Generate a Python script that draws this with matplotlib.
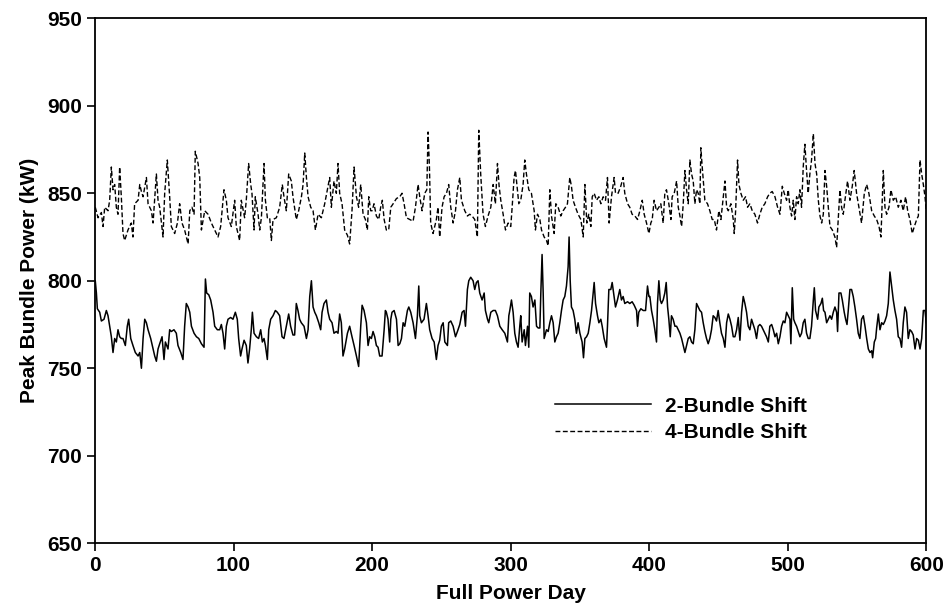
import matplotlib
matplotlib.use("Agg")
import matplotlib.pyplot as plt

# ---- 2-Bundle Shift (solid) ----
days_2b = [0.2, 1.0, 1.7, 3.4, 4.6, 6.5, 8.2, 9.4, 10.6, 11.8, 13.0, 14.2, 15.4, 16.6, 17.8, 19.0, 20.2, 21.9, 23.3, 24.3,
           25.8, 27.4, 29.1, 31.1, 32.3, 33.5, 34.7, 35.9, 37.1, 38.3, 40.2, 41.9, 43.1, 44.3, 45.5, 46.7, 48.4, 49.8, 50.8,
           52.7, 53.9, 55.1, 57.0, 58.7, 59.9, 61.9, 63.5, 64.7, 65.9, 67.2, 68.4, 69.6, 71.5, 73.2, 74.9, 76.8, 78.7, 79.7,
           80.6, 82.1, 83.5, 85.2, 86.4, 88.3, 90.0, 91.2, 92.4, 93.6, 94.8, 96.0, 97.9, 99.6, 101.3, 102.7, 103.7, 105.1,
           106.1, 107.6, 109.2, 110.4, 111.6, 112.8, 113.6, 114.8, 116.5, 118.1, 119.6, 120.8, 122.0, 123.0, 124.4, 125.4,
           126.8, 128.5, 130.2, 131.6, 133.3, 135.0, 136.4, 138.1, 139.8, 141.2, 142.9, 144.1, 145.3, 146.5, 147.7, 148.9,
           150.9, 152.6, 153.8, 155.0, 156.2, 157.4, 158.6, 159.8, 161.5, 162.9, 163.9, 165.3, 167.0, 168.2, 169.4, 171.1,
           172.5, 174.2, 175.4, 176.6, 177.8, 179.0, 180.2, 182.2, 183.8, 185.5, 187.0, 188.7, 190.3, 191.8, 192.8, 194.2,
           195.9, 197.1, 198.3, 199.5, 200.7, 201.9, 203.1, 204.3, 205.5, 207.2, 208.7, 209.6, 210.3, 211.5, 212.7, 213.5,
           214.4, 215.9, 217.6, 218.8, 220.0, 221.2, 222.4, 223.6, 225.5, 226.5, 227.9, 229.6, 231.3, 232.7, 233.7, 234.4,
           235.6, 237.5, 239.2, 240.4, 241.6, 243.3, 244.8, 246.4, 247.6, 248.8, 250.0, 251.3, 252.5, 254.4, 255.3, 256.8,
           258.5, 260.2, 261.6, 263.3, 265.0, 266.4, 267.4, 268.8, 269.8, 271.2, 272.9, 274.1, 275.3, 276.5, 277.7, 279.4,
           280.9, 281.8, 283.3, 284.2, 285.7, 287.4, 289.0, 290.5, 292.2, 293.9, 295.8, 297.7, 298.7, 299.4, 300.6, 301.8,
           303.0, 304.2, 305.4, 306.6, 307.3, 308.3, 309.8, 310.7, 312.2, 313.1, 313.8, 315.0, 316.2, 317.5, 318.7, 319.9,
           321.1, 321.8, 322.7, 323.5, 324.2, 325.9, 327.1, 328.3, 329.5, 330.7, 331.9, 333.1, 334.3, 335.5, 336.7, 337.9,
           339.1, 340.3, 341.5, 342.2, 343.0, 343.9, 345.1, 346.3, 347.5, 348.7, 350.0, 351.6, 352.6, 353.6, 354.8, 356.0,
           357.2, 358.4, 359.6, 360.3, 361.3, 362.7, 363.7, 365.1, 366.1, 367.5, 369.2, 369.9, 370.9, 372.3, 373.3, 374.7,
           375.7, 377.1, 378.8, 380.0, 381.2, 382.4, 384.4, 386.0, 387.7, 389.2, 390.9, 391.6, 392.5, 394.0, 395.7, 397.4,
           398.8, 399.8, 400.5, 401.7, 402.9, 404.1, 405.3, 406.0, 407.0, 408.0, 408.9, 410.1, 411.3, 412.3, 413.3, 414.2,
           415.2, 416.1, 417.3, 418.6, 419.8, 421.0, 422.2, 423.4, 424.6, 425.8, 427.0, 428.2, 429.4, 430.6, 431.8, 433.0,
           434.2, 435.4, 436.6, 437.8, 439.0, 440.2, 441.4, 442.6, 443.8, 445.0, 446.2, 447.4, 448.6, 449.8, 451.0, 452.2,
           453.5, 454.7, 455.9, 457.1, 458.3, 459.5, 460.7, 461.9, 463.1, 464.3, 465.5, 466.7, 467.9, 469.1, 470.3, 471.5,
           472.7, 473.9, 475.1, 476.3, 477.5, 478.7, 479.9, 481.1, 482.3, 483.5, 484.7, 486.0, 487.1, 488.4, 489.6, 490.8,
           492.0, 493.2, 494.4, 495.6, 496.8, 498.0, 499.2, 500.4, 501.6, 502.3, 503.3, 504.3, 505.2, 506.4, 507.6, 508.8,
           510.0, 511.2, 512.4, 513.6, 514.8, 516.0, 517.2, 518.5, 519.2, 520.1, 521.6, 522.5, 524.0, 525.0, 525.9, 526.9,
           528.1, 529.3, 530.5, 531.7, 532.9, 534.1, 535.3, 536.0, 537.0, 538.4, 539.4, 540.8, 541.8, 542.8, 543.7, 544.9,
           546.1, 547.3, 548.5, 549.7, 550.9, 552.1, 553.3, 554.6, 555.8, 557.0, 558.2, 559.4, 560.6, 561.3, 562.5, 563.5,
           564.2, 565.4, 566.6, 567.8, 569.0, 570.2, 571.4, 572.6, 573.8, 575.0, 576.2, 577.4, 578.6, 579.8, 581.0, 582.2,
           583.4, 584.6, 585.8, 587.0, 588.2, 589.4, 590.6, 591.9, 593.1, 594.3, 595.5, 596.7, 597.9, 599.1, 600.0]
power_2b = [800, 793, 784, 782, 777, 778, 783, 780, 774, 768, 759, 767, 765, 772, 768, 767, 767, 763, 774, 778,
            767, 763, 759, 757, 759, 750, 767, 778, 776, 772, 767, 761, 757, 754, 761, 764, 768, 755, 765,
            761, 772, 771, 772, 770, 763, 759, 755, 774, 787, 785, 782, 774, 770, 768, 767, 764, 762, 801,
            793, 792, 789, 782, 774, 772, 772, 775, 770, 761, 774, 778, 779, 778, 782, 778, 767, 757,
            761, 766, 763, 753, 761, 772, 782, 770, 768, 767, 772, 765, 767, 763, 755, 772,
            778, 780, 783, 782, 780, 768, 767, 774, 781, 774, 769, 769, 787, 783, 778, 776,
            774, 767, 772, 791, 800, 785, 782, 780, 776, 772, 782, 787, 789, 782, 778, 776,
            770, 771, 770, 781, 776, 757, 761, 770, 774, 768, 763, 757, 751, 774, 786, 783,
            776, 763, 768, 767, 771, 768, 763, 762, 757, 757, 772, 783, 782, 778, 765, 778,
            782, 783, 778, 763, 764, 767, 776, 774, 783, 785, 782, 776, 767, 780, 797, 780,
            776, 778, 787, 780, 772, 767, 765, 755, 763, 766, 774, 776, 765, 763, 776, 777,
            774, 768, 771, 775, 782, 783, 774, 795, 800, 802, 800, 795, 799, 800, 793, 789,
            793, 783, 778, 776, 782, 783, 783, 780, 774, 772, 770, 765, 780, 783, 789, 782,
            770, 765, 762, 774, 780, 765, 772, 763, 774, 762, 793, 791, 785, 789, 774, 773,
            773, 793, 815, 793, 767, 772, 771, 776, 780, 776, 765, 768, 770, 776, 783, 789,
            791, 797, 808, 825, 800, 785, 783, 778, 770, 776, 770, 765, 756, 767, 768, 770,
            776, 783, 793, 799, 787, 780, 776, 778, 774, 767, 762, 774, 795, 795, 799, 791,
            785, 789, 795, 789, 791, 787, 788, 787, 788, 786, 783, 774, 782, 784, 783, 783,
            797, 791, 791, 783, 778, 772, 765, 787, 800, 789, 787, 789, 793, 799, 785, 778,
            768, 780, 778, 774, 774, 772, 770, 767, 763, 759, 763, 767, 768, 765, 764, 772,
            787, 785, 783, 782, 776, 771, 767, 764, 767, 772, 780, 779, 777, 783, 776, 770,
            767, 762, 776, 781, 778, 774, 768, 768, 772, 779, 766, 782, 791, 787, 782, 774,
            772, 778, 775, 772, 767, 774, 775, 774, 772, 770, 768, 765, 774, 775, 772, 768,
            770, 764, 768, 774, 777, 776, 782, 780, 778, 764, 796, 778, 776, 774, 771, 768,
            770, 776, 778, 770, 767, 767, 774, 789, 796, 783, 778, 785, 787, 790, 783, 782,
            776, 778, 780, 778, 782, 785, 782, 771, 793, 793, 789, 782, 778, 775, 783, 795,
            795, 791, 785, 778, 770, 767, 778, 780, 774, 767, 761, 759, 760, 756, 765, 767,
            773, 781, 772, 776, 775, 777, 780, 787, 805, 797, 789, 783, 778, 768, 767, 762,
            776, 785, 782, 767, 772, 771, 769, 761, 767, 766, 761, 767, 783, 783, 776]

# ---- 4-Bundle Shift (dashed) ----
days_4b = [0.2, 2.2, 4.6, 5.8, 7.0, 9.4, 10.6, 11.8, 13.0, 14.2, 15.4, 16.6, 17.8, 19.0, 20.2, 21.4, 23.8, 26.2, 27.4,
           28.6, 31.1, 32.3, 33.5, 34.7, 37.1, 38.3, 40.7, 41.9, 44.3, 45.5, 46.7, 49.1, 50.3, 52.2, 53.9, 55.1, 57.5,
           59.5, 61.1, 62.8, 64.7, 67.2, 68.4, 70.0, 71.5, 72.4, 74.4, 75.6, 76.8, 79.2, 81.6, 84.0, 86.4, 88.8, 90.7,
           93.1, 94.8, 96.0, 98.4, 100.8, 102.0, 104.4, 105.6, 108.0, 109.2, 110.9, 112.4, 113.3, 114.8, 115.7, 117.7,
           118.9, 120.1, 122.0, 123.0, 124.4, 126.1, 127.3, 128.5, 130.9, 133.3, 135.2, 136.4, 138.1, 139.8, 141.7,
           142.9, 145.3, 147.0, 149.0, 150.2, 151.4, 152.6, 153.8, 155.7, 157.4, 159.1, 161.0, 163.4, 165.8, 167.7,
           169.4, 170.6, 172.5, 174.2, 175.4, 176.6, 178.3, 180.2, 182.2, 183.8, 185.5, 187.0, 188.7, 190.3, 191.8,
           193.5, 195.2, 196.6, 197.6, 199.0, 200.0, 201.4, 203.1, 204.8, 206.2, 207.4, 208.7, 210.3, 212.0, 213.5,
           215.2, 217.6, 220.0, 221.6, 223.1, 224.8, 227.2, 229.6, 231.3, 233.2, 234.4, 236.1, 238.0, 239.5, 240.4,
           241.4, 242.3, 244.0, 246.4, 247.6, 248.8, 250.5, 252.0, 253.7, 255.3, 256.8, 258.5, 260.2, 261.6, 263.3,
           264.5, 266.9, 268.8, 270.5, 272.2, 274.1, 276.0, 277.0, 278.4, 280.1, 281.8, 283.7, 285.7, 287.4, 289.0,
           290.5, 291.7, 292.9, 294.6, 296.3, 298.2, 300.1, 301.1, 302.5, 303.5, 304.9, 305.9, 307.3, 309.0, 310.2,
           311.4, 313.1, 315.0, 317.0, 317.9, 319.4, 321.1, 322.3, 324.2, 325.9, 327.1, 328.3, 329.5, 331.4, 332.6,
           334.3, 336.2, 337.9, 339.6, 341.0, 342.7, 343.9, 345.1, 346.8, 348.7, 350.7, 352.4, 353.6, 355.0, 356.4,
           357.9, 358.9, 360.3, 362.0, 363.7, 365.1, 366.8, 368.5, 369.9, 371.1, 372.8, 374.7, 375.7, 377.6, 379.5,
           381.2, 382.4, 384.4, 386.0, 387.7, 389.7, 391.6, 393.3, 395.0, 396.4, 398.1, 399.8, 401.2, 402.2, 403.6,
           405.3, 407.0, 408.4, 410.1, 411.3, 412.5, 414.2, 415.7, 416.6, 418.1, 419.8, 421.0, 422.2, 423.4, 424.6,
           425.8, 427.0, 428.2, 429.4, 430.6, 431.8, 433.0, 434.2, 435.4, 436.6, 437.3, 438.3, 439.3, 440.2, 442.1,
           443.8, 445.5, 447.0, 448.6, 450.3, 451.8, 453.5, 454.7, 455.9, 457.1, 459.0, 460.7, 461.4, 462.4, 463.8,
           464.8, 466.2, 467.9, 469.6, 471.0, 472.7, 474.4, 476.3, 478.2, 479.9, 481.6, 483.5, 485.5, 487.1, 488.8,
           490.8, 492.7, 494.4, 496.1, 497.5, 499.2, 500.4, 501.6, 502.8, 504.0, 505.2, 506.4, 507.6, 508.8, 510.0,
           511.2, 512.4, 513.6, 514.8, 516.0, 517.2, 518.5, 519.7, 520.9, 522.1, 523.3, 524.5, 525.7, 526.9, 528.1,
           529.3, 530.5, 532.2, 534.1, 535.3, 536.5, 537.7, 538.9, 540.1, 541.3, 543.2, 544.9, 546.6, 548.0, 549.7,
           551.4, 553.3, 555.3, 557.0, 558.6, 560.6, 562.5, 564.2, 565.9, 567.3, 569.0, 570.2, 571.4, 573.1, 574.5,
           576.2, 577.9, 579.8, 581.7, 583.4, 585.1, 586.6, 588.2, 589.9, 591.4, 593.1, 594.3, 595.5, 596.7, 597.9,
           599.1, 600.0]
power_4b = [842, 836, 839, 831, 842, 840, 846, 865, 852, 855, 842, 838, 865, 848, 827, 823, 829, 833, 825,
            844, 846, 855, 851, 848, 859, 844, 840, 833, 861, 846, 842, 825, 850, 869, 848, 831, 827,
            833, 844, 833, 829, 821, 840, 842, 838, 874, 867, 859, 829, 840, 838, 833, 829, 825, 831,
            852, 846, 836, 831, 846, 831, 823, 846, 836, 846, 867, 855, 850, 829, 848, 838,
            829, 836, 867, 846, 836, 836, 823, 835, 836, 842, 855, 848, 840, 861, 857,
            848, 835, 840, 848, 855, 873, 859, 848, 842, 840, 829, 838, 836, 844, 852,
            859, 842, 857, 850, 867, 850, 844, 829, 826, 821, 840, 865, 848, 842, 855,
            838, 835, 829, 848, 840, 840, 844, 837, 835, 842, 846, 835, 829, 829, 842,
            844, 847, 848, 850, 844, 836, 835, 834, 842, 855, 848, 840, 850, 852, 885,
            865, 833, 827, 835, 842, 825, 842, 848, 850, 855, 842, 833, 840, 852, 859,
            846, 840, 837, 838, 837, 835, 825, 886, 861, 838, 831, 837, 842, 855, 844,
            867, 854, 846, 838, 829, 833, 831, 842, 859, 863, 852, 844, 846, 855, 869,
            861, 852, 850, 840, 829, 838, 835, 829, 825, 823, 820, 852, 837, 827, 844,
            842, 837, 840, 842, 844, 859, 854, 846, 842, 838, 835, 825, 855, 833, 838,
            831, 848, 850, 846, 848, 844, 848, 846, 859, 833, 848, 859, 850, 850, 854,
            859, 850, 844, 842, 838, 837, 835, 840, 846, 838, 833, 827, 833, 835, 846,
            840, 842, 844, 833, 850, 852, 844, 835, 848, 850, 857, 842, 837, 831, 844,
            863, 852, 844, 869, 861, 857, 844, 852, 850, 844, 876, 865, 855, 846, 844,
            840, 835, 835, 829, 840, 835, 848, 857, 842, 840, 844, 835, 827, 840, 869,
            855, 850, 846, 848, 842, 844, 840, 838, 833, 838, 842, 844, 848, 850, 851,
            848, 842, 838, 854, 850, 846, 852, 842, 837, 846, 835, 848, 844, 852, 842,
            865, 878, 863, 850, 861, 869, 884, 867, 861, 846, 837, 833, 838, 863, 854,
            842, 831, 829, 825, 819, 835, 852, 842, 838, 846, 857, 846, 854, 863, 850,
            842, 833, 850, 855, 850, 840, 837, 835, 831, 825, 863, 842, 838, 842, 852,
            846, 848, 842, 846, 840, 848, 840, 835, 827, 831, 835, 837, 869, 861, 855,
            848, 840]

labels = ["2-Bundle Shift", "4-Bundle Shift"]
x_ticks = [0, 100, 200, 300, 400, 500, 600]
y_ticks = [650, 700, 750, 800, 850, 900, 950]

plt.rcParams['font.family'] = ['Liberation Sans', 'DejaVu Sans']

fig = plt.figure(figsize=(9.5, 6.09), dpi=100)
ax = fig.add_axes([0.100, 0.108, 0.875, 0.862])

ax.plot(days_2b, power_2b, color='black', linewidth=1.1, linestyle='-', label=labels[0])
ax.plot(days_4b, power_4b, color='black', linewidth=1.0, linestyle=(0, (3.5, 1.8)), label=labels[1])

ax.set_xlim(0, 600)
ax.set_ylim(650, 950)
ax.set_xticks(x_ticks)
ax.set_yticks(y_ticks)
ax.tick_params(direction='out', length=6, width=1.2, labelsize=15)
for lab in ax.get_xticklabels() + ax.get_yticklabels():
    lab.set_fontweight('bold')
for sp in ax.spines.values():
    sp.set_linewidth(1.3)

ax.set_xlabel("Full Power Day", fontsize=15, fontweight='bold', labelpad=6)
ax.set_ylabel("Peak Bundle Power (kW)", fontsize=15, fontweight='bold', labelpad=6)

leg = ax.legend(loc='center left', bbox_to_anchor=(0.553, 0.236), frameon=False,
                borderpad=0, borderaxespad=0,
                handlelength=4.6, handletextpad=0.7, labelspacing=0.35,
                prop={'size': 15, 'weight': 'bold'})

fig.savefig("out.png", dpi=100)
